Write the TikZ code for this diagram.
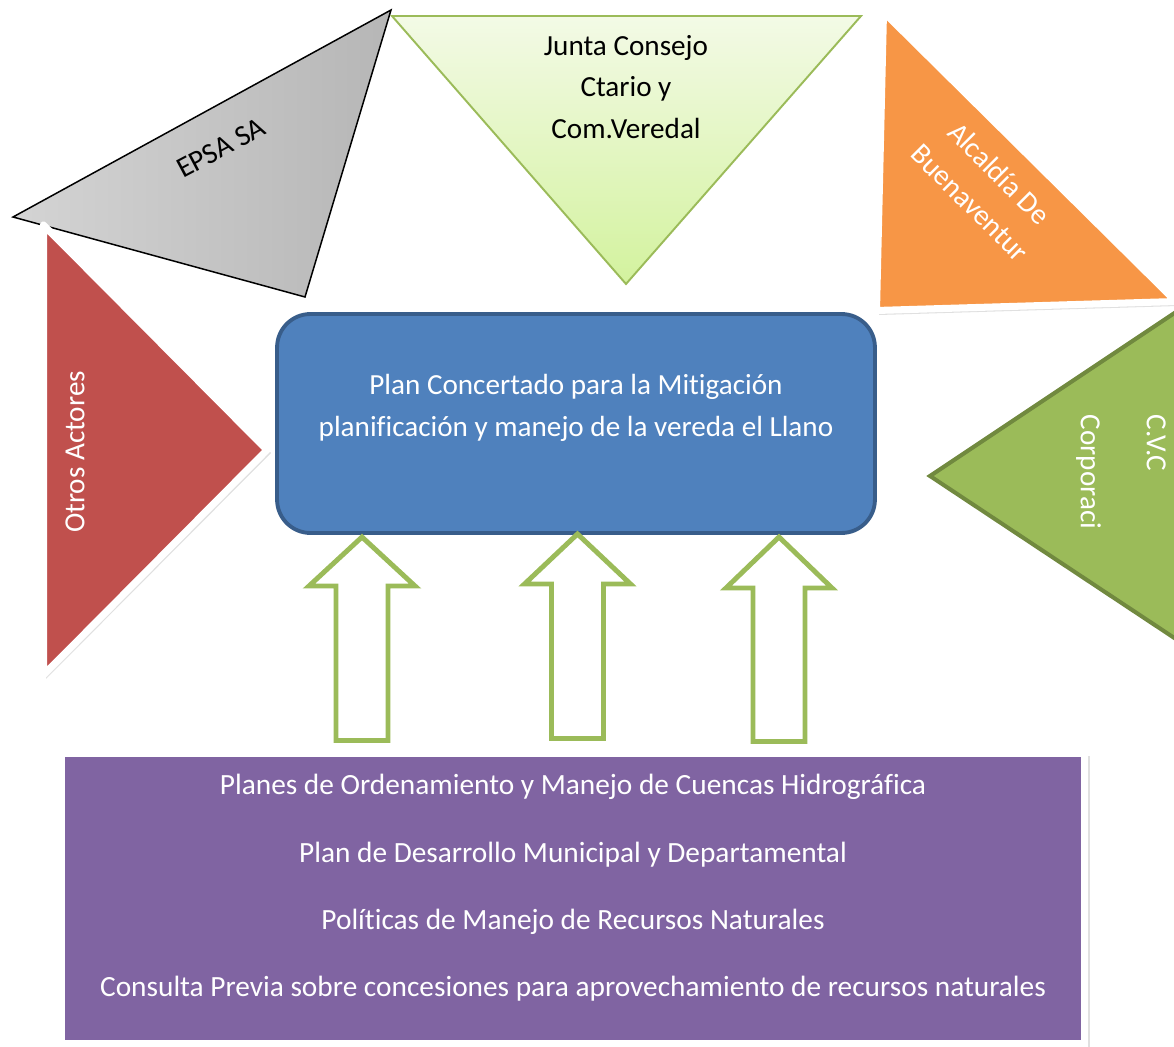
\documentclass[tikz,border=0pt]{standalone}
\usepackage{fontspec}
\setmainfont{Carlito}[Ligatures={NoCommon}]
\usepackage{tikz}
\usetikzlibrary{positioning}
\usepackage{xcolor}
\definecolor{epsagrayA}{HTML}{D4D4D4}
\definecolor{epsagrayB}{HTML}{B6B6B6}
\definecolor{juntatop}{HTML}{F3FAE6}
\definecolor{juntabottom}{HTML}{D3F29E}
\definecolor{juntaline}{HTML}{9BBB59}
\definecolor{alcaldiaorange}{HTML}{F79646}
\definecolor{otrosred}{HTML}{C0504D}
\definecolor{cvcgreen}{HTML}{9BBB59}
\definecolor{cvcline}{HTML}{71893F}
\definecolor{planblue}{HTML}{4F81BD}
\definecolor{planline}{HTML}{385D8A}
\definecolor{listpurple}{HTML}{8064A2}
\tikzset{
  whiteedge/.style={draw=white, line width=4pt, line join=round},
  softshadow/.style={fill=black, opacity=0.12},
  bigtext/.style={font=\fontsize{16.6}{23.5}\selectfont, align=center, inner sep=0pt},
  listtext/.style={font=\fontsize{16.7}{38.3}\selectfont, align=center, inner sep=0pt, text=white},
  uparrow/.style={draw=cvcgreen, line width=2.8pt, fill=white, line join=miter}
}

\begin{document}
\begin{tikzpicture}[x=0.02cm, y=-0.02cm]
\useasboundingbox (0,0) rectangle (1174,1047);
\clip (0,0) rectangle (1174,1047);
% actor triangles
\draw[draw=black, line width=0.85pt, left color=epsagrayA, right color=epsagrayB] (13,217) -- (391,10) -- (305,297) -- cycle;
\node[bigtext, rotate=28] (epsa) at (221,148) {EPSA SA};
\draw[draw=juntaline, line width=1.1pt, top color=juntatop, bottom color=juntabottom] (392,16) -- (861,16) -- (626,284) -- cycle;
\node[bigtext] (junta) at (626,87) {Junta Consejo\\Ctario y\\Com.Veredal};
\fill[softshadow] (886,16) -- (879,315) -- (1178,306) -- cycle;
\filldraw[whiteedge, fill=alcaldiaorange] (883.5,12) -- (876.5,310.5) -- (1176,301.5) -- cycle;
\node[bigtext, text=white, rotate=-45] (alcaldia) at (985,188) {Alcaldía De\\Buenaventur};
\fill[softshadow] (46,228) -- (46,679) -- (271,453) -- cycle;
\filldraw[whiteedge, fill=otrosred] (43.5,225) -- (43.5,675) -- (267,450) -- cycle;
\node[bigtext, text=white, rotate=90] (otros) at (75,452) {Otros Actores};
\draw[draw=cvcline, line width=2.3pt, fill=cvcgreen] (930,476) -- (1200,296) -- (1200,655) -- cycle;
\node[bigtext, text=white, rotate=-90, align=left] (cvc) at (1121,472) {C.V.C\\[14pt]Corporaci};
% central plan
\node[draw=planline, line width=2.2pt, fill=planblue, rounded corners=19pt, minimum width=11.96cm, minimum height=4.38cm, inner sep=0pt] (plan) at (576,423.5) {};
\node[bigtext, text=white] (plantxt) at (576,408) {Plan Concertado para la Mitigación\\planificación y manejo de la vereda el Llano};
% block arrows
\draw[uparrow] (362,537) -- ++(53,49) -- ++(-27,0) -- ++(0,154.5) -- ++(-52,0) -- ++(0,-154.5) -- ++(-27,0) -- cycle;
\draw[uparrow] (577.5,534) -- ++(53,50) -- ++(-27,0) -- ++(0,154.5) -- ++(-52,0) -- ++(0,-154.5) -- ++(-27,0) -- cycle;
\draw[uparrow] (779,537) -- ++(53,51) -- ++(-27,0) -- ++(0,153.5) -- ++(-52,0) -- ++(0,-153.5) -- ++(-27,0) -- cycle;
% plans list
\fill[softshadow] (61,756) rectangle (1090,1050);
\node[draw=white, line width=3.97pt, fill=listpurple, minimum width=20.47cm, minimum height=5.8cm, inner sep=0pt] (plans) at (573.25,898.5) {};
\node[listtext] (planlist) at (573,888) {Planes de Ordenamiento y Manejo de Cuencas Hidrográfica\\Plan de Desarrollo Municipal y Departamental\\Políticas de Manejo de Recursos Naturales\\Consulta Previa sobre concesiones para aprovechamiento de recursos naturales};
\end{tikzpicture}
\end{document}
